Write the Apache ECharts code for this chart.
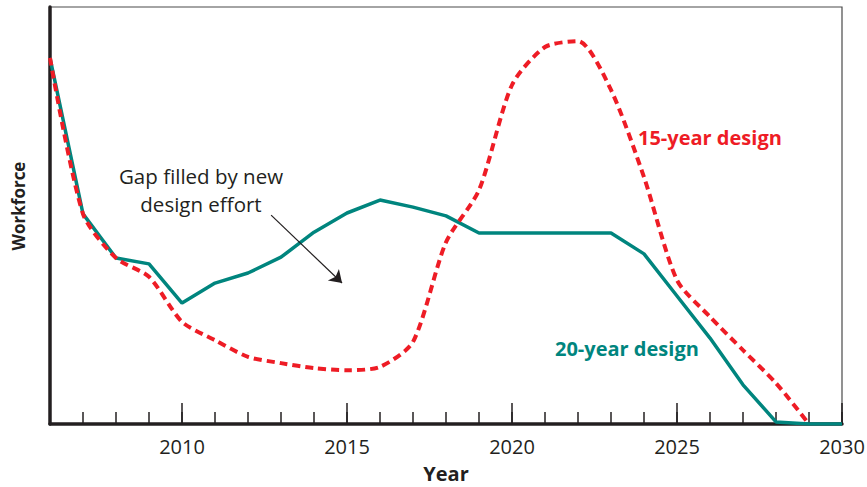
<!DOCTYPE html>
<html>
<head>
<meta charset="utf-8">
<script src="https://cdn.jsdelivr.net/npm/echarts@6/dist/echarts.min.js"></script>
<style>
html,body{margin:0;padding:0;background:#fff;}
#chart{width:867px;height:487px;}
</style>
</head>
<body>
<div id="chart"></div>
<script>
const years = [2006,2007,2008,2009,2010,2011,2012,2013,2014,2015,2016,2017,2018,2019,2020,2021,2022,2023,2024,2025,2026,2027,2028,2029,2030];
const design20 = [87.8,50.4,39.8,38.4,29.0,33.8,36.2,40.0,46.0,50.6,53.7,52.0,49.9,45.8,45.8,45.8,45.8,45.8,40.8,30.7,20.6,9.4,0.5,0,0];
const design15 = [87.8,50.4,39.8,35.3,24.5,20.1,16.1,14.6,13.4,12.9,13.7,19.7,43.6,56.1,81.3,90.4,91.8,80.1,59.2,34.5,25.7,17.7,9.8,0,null];
const majorTicks = [2010,2015,2020,2025,2030];
const tickLabels = ['2010','2015','2020','2025','2030'];
const seriesNames = ['20-year design','15-year design'];
const annotationText = ['Gap filled by new','design effort'];
const arrowFrom = [2012.7, 50.1];
const arrowTo = [2014.85, 33.8];

const FONT = '"Open Sans", "Noto Sans", sans-serif';
const TEAL = '#00857e';
const RED = '#ee1c25';
const INK = '#231f20';

const chart = echarts.init(document.getElementById('chart'), null, {renderer:'svg'});
const pairs = (xs, ys) => xs.map((x,i)=>[x, ys[i]]);

chart.setOption({
  animation:false,
  backgroundColor:'#fff',
  grid:{left:50,right:25,top:7,bottom:63,show:true,borderColor:'#4a4a4a',borderWidth:1.2,
    containLabel:false,outerBoundsMode:'none'},
  xAxis:[{
    type:'value',min:2006,max:2030,interval:1,position:'bottom',
    axisLine:{onZero:false,lineStyle:{color:INK,width:3.5}},
    axisTick:{inside:true,length:12,lineStyle:{color:INK,width:1.5}},
    axisLabel:{customValues:majorTicks,formatter:(v)=>tickLabels[majorTicks.indexOf(v)] ?? '',
      color:INK,fontFamily:FONT,fontSize:20,margin:12},
    splitLine:{show:false},
    name:'Year',nameLocation:'middle',nameGap:39,
    nameTextStyle:{color:INK,fontFamily:FONT,fontSize:20,fontWeight:'bold',lineHeight:20}
  },{
    type:'value',min:2006,max:2030,position:'bottom',
    axisLine:{show:false},
    axisTick:{inside:true,length:21,customValues:majorTicks,lineStyle:{color:INK,width:1.5}},
    axisLabel:{show:false},
    splitLine:{show:false}
  }],
  yAxis:{
    type:'value',min:0,max:100,
    axisLine:{show:true,lineStyle:{color:INK,width:3.5}},
    axisTick:{show:false},axisLabel:{show:false},splitLine:{show:false}
  },
  series:[{
    name:seriesNames[0],type:'line',data:pairs(years,design20),
    symbol:'none',lineStyle:{color:TEAL,width:3.5},z:2,
    markLine:{
      silent:true,symbol:['none','arrow'],symbolSize:12,
      lineStyle:{color:INK,width:1.2,type:'solid'},label:{show:false},
      data:[[{coord:arrowFrom},{coord:arrowTo}]]
    }
  },{
    name:seriesNames[1],type:'line',data:pairs(years,design15),
    symbol:'none',smooth:0.25,connectNulls:false,
    lineStyle:{color:RED,width:4,type:[8,5]},z:3
  }],
  graphic:[
    {type:'text',x:18,y:206,rotation:Math.PI/2,
      style:{text:'Workforce',fill:INK,font:'bold 17px '+FONT,align:'center',verticalAlign:'middle'}},
    {type:'text',x:638,y:137,style:{text:seriesNames[1],fill:RED,font:'bold 20px '+FONT,verticalAlign:'middle'}},
    {type:'text',x:555,y:348,style:{text:seriesNames[0],fill:TEAL,font:'bold 20px '+FONT,verticalAlign:'middle'}},
    {type:'text',x:201,y:190,style:{text:annotationText.join('\n'),fill:INK,font:'20.5px '+FONT,
      lineHeight:28,align:'center',verticalAlign:'middle'}}
  ]
});
</script>
</body>
</html>
